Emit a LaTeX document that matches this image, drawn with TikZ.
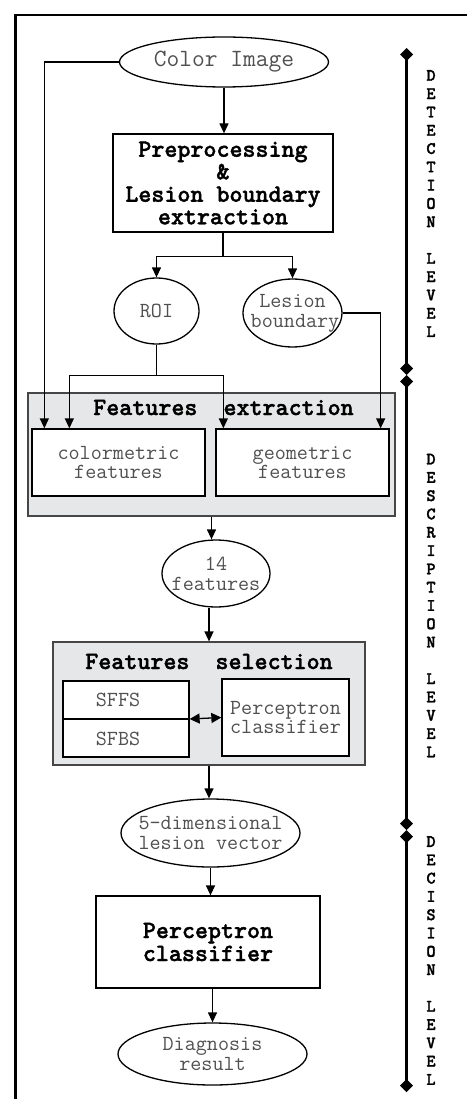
\documentclass[tikz,border=0pt]{standalone}
\usepackage{fontspec}
\newfontfamily\ttheavy{lmmonolt10-bold.otf}[FakeBold=1.5]
\usepackage{tikz}
\usetikzlibrary{shapes,arrows.meta,calc}
\definecolor{txtgray}{RGB}{80,80,80}
\definecolor{panelfill}{RGB}{230,231,232}
\definecolor{panelline}{RGB}{70,70,70}
\newcommand{\zw}[1]{\makebox[0pt]{#1}}
\newcommand{\grayfont}{\ttfamily\fontsize{21.5}{19.5}\selectfont}
\newcommand{\boldfont}{\ttheavy\fontsize{24.8}{22.5}\selectfont}
\newcommand{\levfont}{\ttheavy\fontsize{17.5}{18.3}\selectfont}

\begin{document}
\begin{tikzpicture}[x=1pt, y=-1pt, line width=1.3pt, >={Triangle[length=10pt,width=9pt]},
        ell/.style={ellipse, draw, inner sep=0pt, text=txtgray, font=\grayfont, align=center},
        box/.style={rectangle, draw, fill=white, inner sep=0pt, align=center},
        panel/.style={rectangle, draw=panelline, fill=panelfill, line width=1.2pt, inner sep=0pt, font=\boldfont},
        lev/.style={inner sep=0pt, align=center, font=\levfont},
        bar/.style={line width=3pt, {Diamond[length=13pt,width=13pt]}-{Diamond[length=13pt,width=13pt]}}]
        \useasboundingbox (0,0) rectangle (467,1099);
        \draw[line width=2.8pt] (15.3,1099) -- (15.3,15) -- (467,15);

        \coordinate (color) at (224,62);
        \coordinate (prep) at (223,183);
        \coordinate (roi) at (156.5,311);
        \coordinate (les) at (292.5,313);
        \coordinate (fext) at (211.5,454.5);
        \coordinate (colm) at (118.5,462.5);
        \coordinate (geom) at (302.5,462.5);
        \coordinate (f14) at (216,573.5);
        \coordinate (fsel) at (209,703.5);
        \coordinate (sfs) at (126,719);
        \coordinate (percsel) at (285.5,717.5);
        \coordinate (dim) at (210.5,833);
        \coordinate (perc) at (208,942);
        \coordinate (diag) at (212.5,1054);
        \coordinate (lv_a) at (406.5,48);
        \coordinate (lv_b) at (406.5,375);
        \coordinate (lv_c) at (406.5,830);
        \coordinate (lv_d) at (406.5,1092);

        \node[ell, minimum width=209pt, minimum height=50pt, font=\ttfamily\fontsize{24.8}{22}\selectfont] (Color) at (color) {\zw{Color Image}};
        \node[box, minimum width=220pt, minimum height=98pt, font=\boldfont] (Prep) at (prep) {Preprocessing\\\&\\Lesion boundary\\extraction};
        \node[ell, minimum width=85pt, minimum height=66pt] (ROI) at (roi) {\zw{ROI}};
        \node[ell, minimum width=99pt, minimum height=68pt, font=\ttfamily\fontsize{21.5}{20}\selectfont] (Les) at (les) {\zw{Lesion}\\\zw{\hspace*{5pt}boundary}};
        \node[panel, minimum width=367pt, text height=22pt, text depth=101pt] (Fext) at (fext) {\hspace*{24pt}Features~~extraction};
        \node[box, minimum width=173pt, minimum height=67pt, text=txtgray, font=\grayfont] (Colm) at (colm) {colormetric\\features};
        \node[box, minimum width=173pt, minimum height=67pt, text=txtgray, font=\grayfont] (Geom) at (geom) {geometric\\features};
        \node[ell, minimum width=108pt, minimum height=67pt, font=\ttfamily\fontsize{21.5}{20}\selectfont] (F14) at (f14) {\zw{14}\\\zw{features}};
        \node[panel, minimum width=312pt, text height=27pt, text depth=96pt] (Fsel) at (fsel) {Features~~selection};
        \node[box, minimum width=126pt, minimum height=76pt, text=txtgray, font=\grayfont] (Sfs) at (sfs) {\hspace*{-16pt}SFFS\\[19.5pt]\hspace*{-16pt}SFBS};
        \node[box, minimum width=127pt, minimum height=77pt, text=txtgray, font=\grayfont] (PercSel) at (percsel) {Perceptron\\classifier};
        \node[ell, minimum width=179pt, minimum height=68pt, font=\ttfamily\fontsize{21.5}{20}\selectfont] (Dim) at (dim) {\zw{5-dimensional}\\\zw{lesion vector}};
        \node[box, minimum width=224pt, minimum height=92pt, font=\ttheavy\fontsize{24.8}{23}\selectfont] (Perc) at (perc) {Perceptron\\classifier};
        \node[ell, minimum width=189pt, minimum height=62pt] (Diag) at (diag) {\zw{Diagnosis}\\\zw{result}};

        \node[lev] (Ldet) at (431,203.5) {D\\E\\T\\E\\C\\T\\I\\O\\N\\~\\L\\E\\V\\E\\L};
        \node[lev] (Ldes) at (431,605.5) {D\\E\\S\\C\\R\\I\\P\\T\\I\\O\\N\\~\\L\\E\\V\\E\\L};
        \node[lev] (Ldec) at (431,960.5) {D\\E\\C\\I\\S\\I\\O\\N\\~\\L\\E\\V\\E\\L};

        \draw[->] (Color.south) -- (Color.south |- Prep.north);
        \draw[->] (Color.west) -| ($(Colm.north west)+(13,0)$);
        \draw (Prep.south) -- ($(Prep.south)+(0,24)$) coordinate (sp_a);
        \draw[->] (sp_a) -| (ROI.north);
        \draw[->] (sp_a) -| (Les.north);
        \draw (ROI.south) -- ($(ROI.south)+(0,31)$) coordinate (sp_b);
        \draw[->] (sp_b) -| ($(Colm.north west)+(38,0)$);
        \draw[->] (sp_b) -| ($(Geom.north west)+(8,0)$);
        \draw[->] (Les.east) -| ($(Geom.north east)+(-9,0)$);
        \draw[->] (Fext.south) -- (Fext.south |- F14.north);
        \draw[->] (F14.south -| Fsel.north) -- (Fsel.north);
        \draw (Sfs.west) -- (Sfs.east);
        \draw[<->, >={Triangle[length=10pt,width=10pt]}] (Sfs.east) -- (PercSel.west);
        \draw[->] (Fsel.south) -- (Fsel.south |- Dim.north);
        \draw[->] (Dim.south) -- (Dim.south |- Perc.north);
        \draw[->] (Diag.north |- Perc.south) -- (Diag.north);

        \draw[bar] (lv_a) -- (lv_b);
        \draw[bar] (lv_b) -- (lv_c);
        \draw[bar] (lv_c) -- (lv_d);
    \end{tikzpicture}
\end{document}
